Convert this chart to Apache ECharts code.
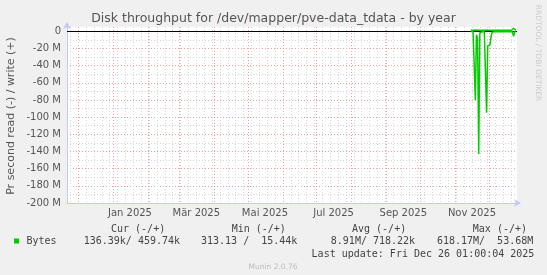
<!DOCTYPE html>
<html><head><meta charset="utf-8">
<script src="https://cdn.jsdelivr.net/npm/echarts@6/dist/echarts.min.js"></script>
<style>html,body{margin:0;padding:0;background:#f0f0f0}#c{width:547px;height:275px}</style>
</head><body><div id="c"></div>
<script>
const chartTitle = 'Disk throughput for /dev/mapper/pve-data_tdata - by year';
const yAxisTitle = 'Pr second read (-) / write (+)';
const yTickValuesM = [0, -20, -40, -60, -80, -100, -120, -140, -160, -180, -200];
const monthLabels = ['Jan 2025', 'Mär 2025', 'Mai 2025', 'Jul 2025', 'Sep 2025', 'Nov 2025'];
const monthLabelMonths = ['2025-01', '2025-03', '2025-05', '2025-07', '2025-09', '2025-11'];
const rangeStart = '2024-11-21T01:00';
const rangeEnd = '2025-12-26T01:00';

const dates = [
  '2025-11-15','2025-11-16','2025-11-17','2025-11-18','2025-11-19','2025-11-20','2025-11-21',
  '2025-11-22','2025-11-23','2025-11-24','2025-11-25','2025-11-26','2025-11-27','2025-11-28',
  '2025-11-29','2025-11-30','2025-12-01','2025-12-02','2025-12-03','2025-12-04','2025-12-05',
  '2025-12-06','2025-12-07','2025-12-08','2025-12-09','2025-12-10','2025-12-11','2025-12-12',
  '2025-12-13','2025-12-14','2025-12-15','2025-12-16','2025-12-17','2025-12-18','2025-12-19',
  '2025-12-20','2025-12-21','2025-12-22','2025-12-23','2025-12-24','2025-12-25'
];
// read throughput, MB/s (drawn downwards)
const readM = [
  0.3, 0.4, 0.3, 0.5, 80, 4, 8,
  143, 2, 0.6, 0.5, 0.4, 0.5, 0.6,
  95, 17, 17, 16, 6, 1, 0.5,
  0.4, 0.4, 0.5, 0.4, 0.5, 0.6, 0.5,
  2, 0.5, 0.4, 0.4, 0.5, 0.4, 0.4,
  0.5, 0.4, 0.5, 6, 0.5, 0.3
];
// write throughput, MB/s (drawn upwards)
const writeM = [
  1.3, 1.2, 1.3, 1.4, 1.5, 1.3, 1.3,
  1.5, 1.3, 1.2, 1.3, 1.2, 1.3, 1.2,
  1.4, 1.3, 1.3, 1.3, 1.2, 1.2, 1.3,
  1.2, 1.2, 1.3, 1.2, 1.3, 1.2, 1.2,
  1.3, 1.2, 1.2, 1.3, 1.2, 1.2, 1.3,
  1.2, 1.2, 1.3, 3.5, 1.3, 1.2
];

const seriesName = 'Bytes';
const legendHeaders = ['Cur (-/+)', 'Min (-/+)', 'Avg (-/+)', 'Max (-/+)'];
const legendValues = ['136.39k/ 459.74k', '313.13 /  15.44k', '8.91M/ 718.22k', '618.17M/  53.68M'];
const lastUpdate = 'Last update: Fri Dec 26 01:00:04 2025';
const versionText = 'Munin 2.0.76';
const watermark = 'RRDTOOL / TOBI OETIKER';

// ---- helpers (times treated as naive local time) ----
const DAY = 86400000;
function t(s) {
  const [d, hm] = s.split('T');
  const [y, m, dd] = d.split('-').map(Number);
  const h = hm ? Number(hm.split(':')[0]) : 0;
  return Date.UTC(y, m - 1, dd || 1, h);
}
const tStart = t(rangeStart), tEnd = t(rangeEnd);

// grid positions
const monthStarts = [];
{
  let y = 2024, m = 11;
  while (true) {
    const v = Date.UTC(y, m, 1);
    if (v > tEnd) break;
    if (v > tStart) monthStarts.push(v);
    m++; if (m > 11) { m = 0; y++; }
  }
}
const weekLines = [];
for (let v = Date.UTC(2024, 10, 24); v < tEnd; v += 7 * DAY) weekLines.push(v);
const labelPos = monthLabelMonths.map(s => t(s) + 15 * DAY);
const yMajor = yTickValuesM.map(v => v * 1e6);
const yMinor = [];
for (let v = -190; v < 0; v += 20) yMinor.push(v * 1e6);

const readData = dates.map((d, i) => [t(d), -readM[i] * 1e6]);
const writeData = dates.map((d, i) => [t(d), writeM[i] * 1e6]);

const FONT = 'DejaVu Sans';
const MONO = 'DejaVu Sans Mono';
const txtColor = '#555';
const legColor = '#444';

const graphics = [
  { type: 'text', x: 273.5, y: 19, style: { text: chartTitle, font: '12.5px "' + FONT + '"', fill: txtColor, align: 'center', verticalAlign: 'middle' } },
  { type: 'text', x: 11, y: 116, rotation: Math.PI / 2, style: { text: yAxisTitle, font: '11px "' + FONT + '"', fill: txtColor, align: 'center', verticalAlign: 'middle' } },
  { type: 'text', x: 537.5, y: 53, rotation: -Math.PI / 2, style: { text: watermark, font: '7.5px "' + FONT + '"', fill: '#cccccc', align: 'center', verticalAlign: 'middle' } },
  { type: 'rect', shape: { x: 14, y: 238.5, width: 5, height: 5 }, style: { fill: '#00cc00' } },
  { type: 'text', x: 26.5, y: 241.5, style: { text: seriesName, font: '10px "' + MONO + '"', fill: legColor, verticalAlign: 'middle' } },
  { type: 'text', x: 311.6, y: 254.3, style: { text: lastUpdate, font: '10px "' + MONO + '"', fill: legColor, verticalAlign: 'middle' } },
  { type: 'text', x: 273, y: 267, style: { text: versionText, font: '7.5px "' + FONT + '"', fill: '#bbbbbb', align: 'center', verticalAlign: 'middle' } }
];
const headerX = [111, 231.7, 352, 472.8];
const valueX = [83.7, 201, 330.8, 436.9];
legendHeaders.forEach((h, i) => graphics.push({ type: 'text', x: headerX[i], y: 229, style: { text: h, font: '10px "' + MONO + '"', fill: legColor, verticalAlign: 'middle' } }));
legendValues.forEach((h, i) => graphics.push({ type: 'text', x: valueX[i], y: 241.5, style: { text: h, font: '10px "' + MONO + '"', fill: legColor, verticalAlign: 'middle' } }));

const axisBlue = '#c4c8f8';
const chart = echarts.init(document.getElementById('c'), null, { renderer: 'canvas' });
chart.setOption({
  animation: false,
  backgroundColor: '#f0f0f0',
  grid: { left: 67, right: 30, top: 27, bottom: 72, show: true, backgroundColor: '#ffffff', borderWidth: 0, containLabel: false, outerBoundsMode: 'none' },
  xAxis: [
    { type: 'value', min: tStart, max: tEnd, axisLine: { show: false, onZero: false }, axisLabel: { show: false },
      axisTick: { show: false, customValues: weekLines },
      splitLine: { show: true, lineStyle: { color: '#d6d6d6', width: 1, type: [1, 2] } } },
    { type: 'value', min: tStart, max: tEnd, position: 'bottom',
      axisLine: { show: true, onZero: false, symbol: ['none', 'arrow'], symbolSize: [6, 7], symbolOffset: [0, 4], lineStyle: { color: axisBlue, width: 1 } },
      axisTick: { show: false, customValues: monthStarts },
      axisLabel: { show: true, customValues: labelPos, margin: 5, fontFamily: FONT, fontSize: 10, color: txtColor,
        formatter: function (v) {
          let best = 0, bd = Infinity;
          labelPos.forEach((p, i) => { const d = Math.abs(p - v); if (d < bd) { bd = d; best = i; } });
          return monthLabels[best];
        } },
      splitLine: { show: true, lineStyle: { color: '#f0a0a0', width: 1, type: [1, 2] } } }
  ],
  yAxis: [
    { type: 'value', min: -200e6, max: 5e6, axisLine: { show: false }, axisLabel: { show: false },
      axisTick: { show: false, customValues: yMinor },
      splitLine: { show: true, lineStyle: { color: '#d6d6d6', width: 1, type: [1, 2] } } },
    { type: 'value', min: -200e6, max: 5e6, position: 'left',
      axisLine: { show: true, symbol: ['none', 'arrow'], symbolSize: [6, 7], symbolOffset: [0, 5], lineStyle: { color: axisBlue, width: 1 } },
      axisTick: { show: false, customValues: yMajor },
      axisLabel: { show: true, customValues: yMajor, margin: 6, fontFamily: FONT, fontSize: 10, color: txtColor,
        formatter: function (v) { const m = Math.round(v / 1e6); return m === 0 ? '0' : m + ' M'; } },
      splitLine: { show: true, lineStyle: { color: '#f0a0a0', width: 1, type: [1, 2] } } }
  ],
  series: [
    { name: 'read', type: 'line', xAxisIndex: 1, yAxisIndex: 1, data: readData, showSymbol: false, clip: false,
      lineStyle: { color: '#00cc00', width: 1.5 }, itemStyle: { color: '#00cc00' }, z: 3,
      markLine: { silent: true, symbol: 'none', label: { show: false }, lineStyle: { color: '#000000', width: 1, type: 'solid' }, data: [{ yAxis: 0 }], z: 2 } },
    { name: 'write', type: 'line', xAxisIndex: 1, yAxisIndex: 1, data: writeData, showSymbol: false, clip: false,
      lineStyle: { color: '#00cc00', width: 1.5 }, itemStyle: { color: '#00cc00' }, z: 4 }
  ],
  graphic: graphics
});
</script>
</body></html>
